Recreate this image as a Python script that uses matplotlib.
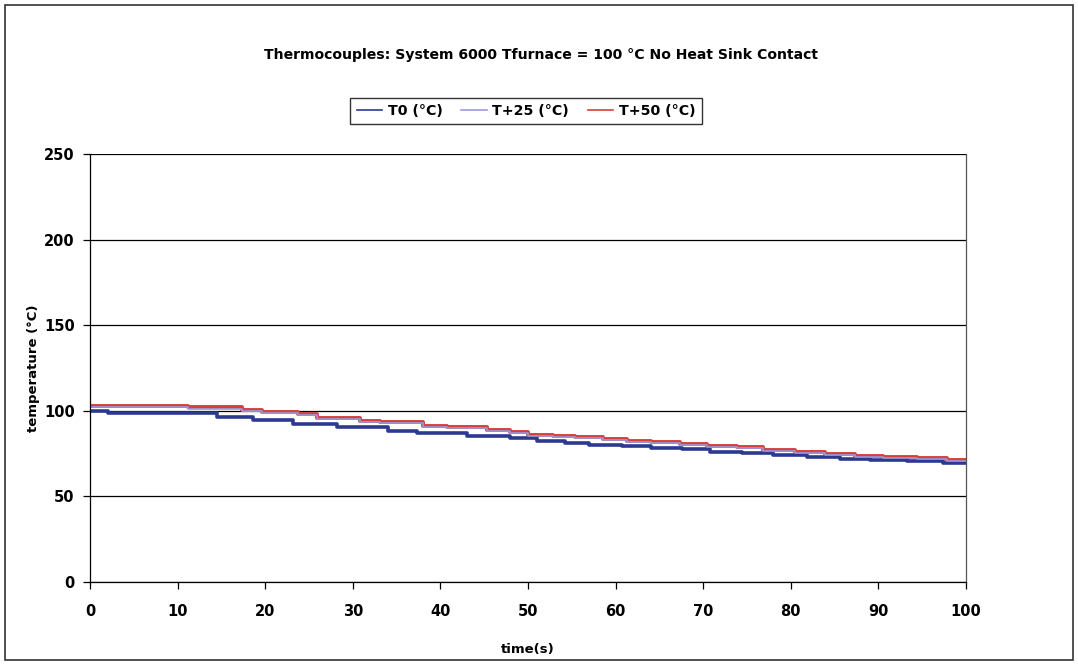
import matplotlib
matplotlib.use("Agg")
import matplotlib.pyplot as plt
from matplotlib.patches import Rectangle

# step breakpoints (time in s, temperature in C)
t0_time = [0, 2, 14.5, 18.6, 23.2, 28.2, 34, 37.3, 43, 48, 51, 54.2, 57, 60.7,
           64, 67.6, 70.8, 74.4, 78, 81.8, 85.6, 89, 93.3, 97.4, 100]
t0_temp = [100, 98.5, 96.5, 94.5, 92.5, 90.5, 88.5, 87.2, 85.4, 84, 82.6, 81.2,
           80.2, 79.3, 78.4, 77.4, 76.2, 75.1, 74.3, 73, 72, 71.2, 70.4, 69.6, 69.6]

t25_time = [0, 11.2, 17.4, 19.6, 23.7, 25.9, 30.8, 33.1, 38, 40.7, 45.3, 48,
            50, 52.9, 55.4, 58.6, 61.3, 64, 67.4, 70.4, 73.9, 76.8, 80.5, 83.9,
            87.3, 90.5, 94.4, 97.8, 100]
t25_temp = [102, 101.2, 99.8, 98.8, 97.3, 95.4, 93.6, 92.6, 90.6, 89.7, 88, 86.8,
            85.3, 84.7, 83.9, 82.7, 81.9, 81, 80.2, 79, 78, 76.5, 75.1, 74,
            73.2, 72.4, 71.6, 70.8, 70.8]

t50_time = [0, 11.2, 17.4, 19.6, 23.7, 25.9, 30.8, 33.1, 38, 40.7, 45.3, 48,
            50, 52.9, 55.4, 58.6, 61.3, 64, 67.4, 70.4, 73.9, 76.8, 80.5, 83.9,
            87.3, 90.5, 94.4, 97.8, 100]
t50_temp = [103, 102, 100.6, 99.6, 98, 96.1, 94.3, 93.3, 91.3, 90.4, 88.6, 87.4,
            86, 85.3, 84.5, 83.3, 82.5, 81.6, 80.8, 79.6, 78.6, 77.1, 75.7, 74.5,
            73.8, 73, 72.2, 71.3, 71.3]

labels = ["T0 (°C)", "T+25 (°C)", "T+50 (°C)"]
colors = ["#2b3990", "#9a9ae0", "#d6403a"]

plt.rcParams['font.family'] = ['DejaVu Sans']

fig = plt.figure(figsize=(10.78, 6.65), dpi=100)
ax = fig.add_axes([0.0835, 0.125, 0.8126, 0.643])

ax.plot(t0_time, t0_temp, drawstyle='steps-post', color=colors[0], lw=2.6, label=labels[0])
ax.plot(t25_time, t25_temp, drawstyle='steps-post', color=colors[1], lw=1.2, label=labels[1])
ax.plot(t50_time, t50_temp, drawstyle='steps-post', color=colors[2], lw=2.8, label=labels[2], zorder=1.9)

ax.set_xlim(0, 100)
ax.set_ylim(0, 250)
ax.set_xticks(range(0, 101, 10))
ax.set_yticks(range(0, 251, 50))
ax.yaxis.grid(True, color='black', lw=0.9)
ax.set_axisbelow(True)
ax.tick_params(direction='out', length=5, width=0.9, labelsize=10.5)
ax.tick_params(axis='x', pad=11)
ax.tick_params(axis='y', pad=6)
for lab in ax.get_xticklabels() + ax.get_yticklabels():
    lab.set_fontweight('semibold')
for s in ax.spines.values():
    s.set_linewidth(0.9)
ax.spines['top'].set_visible(False)
ax.spines['right'].set_color('#555555')

ax.set_xlabel("time(s)", fontsize=9.5, fontweight='bold', labelpad=17)
ax.set_ylabel("temperature (°C)", fontsize=9.5, fontweight='bold', labelpad=3)

fig.text(0.502, 0.918, "Thermocouples: System 6000 Tfurnace = 100 °C No Heat Sink Contact",
         ha='center', va='center', fontsize=10.1, fontweight='bold')

leg = fig.legend(loc='center', bbox_to_anchor=(0.488, 0.833), ncol=3, frameon=True,
                 fancybox=False, edgecolor='black', fontsize=10.2, handlelength=1.8,
                 handletextpad=0.4, columnspacing=1.3, borderpad=0.45)
for h in leg.get_lines():
    h.set_linewidth(1.2)
for tx in leg.get_texts():
    tx.set_fontweight('bold')

fig.add_artist(Rectangle((0.005, 0.007), 0.99, 0.986, transform=fig.transFigure,
                         fill=False, edgecolor='#333333', lw=1.2))

fig.savefig("out.png", dpi=100)
